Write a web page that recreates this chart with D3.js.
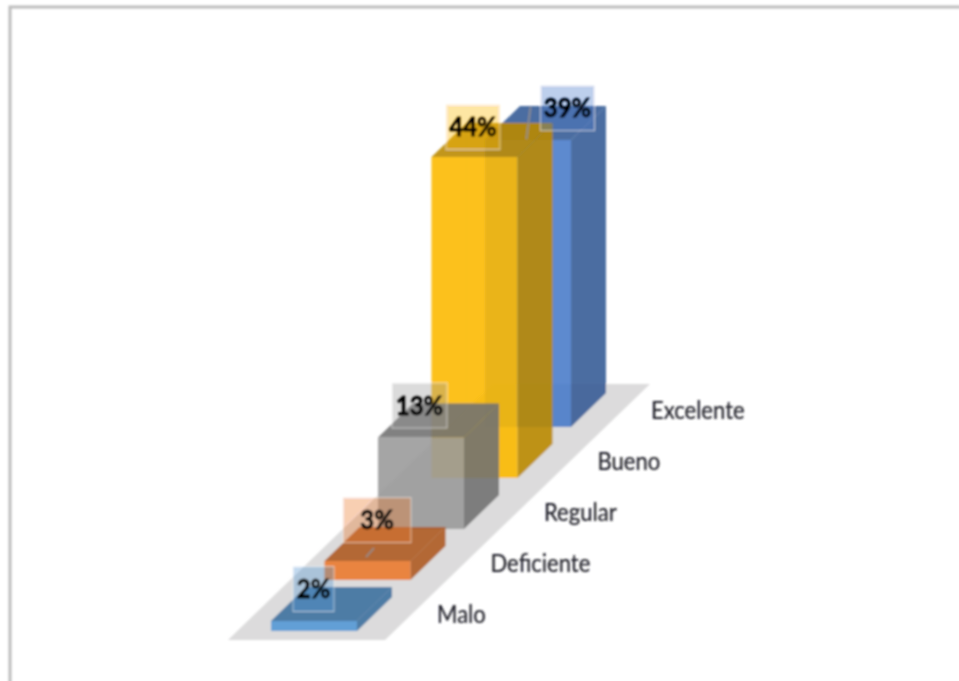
<!DOCTYPE html>
<html>
<head>
<meta charset="utf-8">
<script src="https://cdnjs.cloudflare.com/ajax/libs/d3/7.8.5/d3.min.js"></script>
<style>
html,body{margin:0;padding:0;background:#fff;overflow:hidden}
svg{display:block}
</style>
</head>
<body>
<svg id="chart" width="959" height="681"></svg>
<script>
// Data
const categories = ["Malo", "Deficiente", "Regular", "Bueno", "Excelente"];
const values = [2, 3.2, 13, 44, 39.4];
const seriesColors = ["#5498d6", "#ec7a2c", "#9b9b9b", "#fdbb00", "#4a7bcb"];

// Projection of the oblique 3D view
const barWidth = 86, depthX = 35, depthY = 34;
const xPos = d3.scalePoint().domain(categories).range([271, 485]);
const yPos = d3.scalePoint().domain(categories).range([631, 427]);
const height = d3.scaleLinear().domain([2, 44]).range([10, 321]);

// Label layout per category
const labelBox = {
  Malo:       {dx: -18, dy: -15, w: 41},
  Deficiente: {dx: -8,  dy: -24, w: 68, leader: [[-3, 28], [-11, 37]]},
  Regular:    {dx: -19, dy: -15, w: 55},
  Bueno:      {dx: -19, dy: -13, w: 54},
  Excelente:  {dx: 22,  dy: -15, w: 54, leader: [[-37, -1], [-41, 31]]}
};

const svg = d3.select("#chart");
const defs = svg.append("defs");
defs.append("filter").attr("id", "soft")
  .attr("x", "-5%").attr("y", "-5%").attr("width", "110%").attr("height", "110%")
  .append("feGaussianBlur").attr("stdDeviation", 0.85);

const root = svg.append("g").attr("filter", "url(#soft)");

// Picture frame (top and left edges only are visible)
root.append("path")
  .attr("d", d3.line()([[975, 7], [10, 7], [10, 700]]))
  .attr("fill", "none").attr("stroke", "#bdbdbd").attr("stroke-width", 3);

const line = d3.line();
const poly = pts => line(pts) + "Z";

// Floor
const first = categories[0];
const fx0 = xPos(first) - 43, fy0 = yPos(first) + 9;
const fx1 = xPos(first) + barWidth + 28;
const run = 265, rise = 256;
root.append("path")
  .attr("d", poly([[fx0, fy0], [fx1, fy0], [fx1 + run, fy0 - rise], [fx0 + run, fy0 - rise]]))
  .attr("fill", "#dcdbdc");

// Bars, back to front
const order = categories.map((c, i) => ({c, v: values[i], col: seriesColors[i]})).reverse();
const barAlpha = 0.88;

const bars = root.selectAll("g.bar").data(order).join("g").attr("class", "bar");
bars.each(function (d) {
  const g = d3.select(this);
  const x = xPos(d.c), y = yPos(d.c), h = height(d.v);
  const X = x + barWidth, T = y - h;
  const dark = d3.color(d.col).darker(0.85).formatHex();
  const edge = d3.color(d.col).darker(1.6).formatHex();
  // hidden faces seen through the translucent ones
  const hidden = [
    [[x, y], [X, y], [X + depthX, y - depthY], [x + depthX, y - depthY]],
    [[x + depthX, y - depthY], [X + depthX, y - depthY], [X + depthX, T - depthY], [x + depthX, T - depthY]],
    [[x, y], [x + depthX, y - depthY], [x + depthX, T - depthY], [x, T]]
  ];
  hidden.forEach(p => g.append("path").attr("d", poly(p)).attr("fill", edge).attr("fill-opacity", 0.12));
  g.append("path").attr("d", poly([[X, y], [X + depthX, y - depthY], [X + depthX, T - depthY], [X, T]]))
    .attr("fill", dark).attr("fill-opacity", barAlpha);
  g.append("path").attr("d", poly([[x, T], [X, T], [X + depthX, T - depthY], [x + depthX, T - depthY]]))
    .attr("fill", dark).attr("fill-opacity", barAlpha);
  g.append("path").attr("d", poly([[x, y], [X, y], [X, T], [x, T]]))
    .attr("fill", d.col).attr("fill-opacity", barAlpha);
});

// Category labels
root.selectAll("text.cat").data(categories).join("text")
  .attr("class", "cat")
  .attr("transform", c => `translate(${xPos(c) + 166},${yPos(c) - 8}) scale(0.9,1)`)
  .attr("font-family", "Lato, 'Open Sans', sans-serif")
  .attr("font-size", 24.5)
  .attr("fill", "#23232b")
  .attr("stroke", "#23232b").attr("stroke-width", 0.25)
  .text(c => c);

// Data labels
const labels = root.selectAll("g.lab").data(order).join("g").attr("class", "lab");
labels.each(function (d) {
  const g = d3.select(this);
  const cx = xPos(d.c) + barWidth / 2 + depthX / 2;
  const cy = yPos(d.c) - height(d.v) - depthY / 2;
  const b = labelBox[d.c];
  const lx = cx + b.dx, ly = cy + b.dy;
  if (b.leader) {
    g.append("path")
      .attr("d", line(b.leader.map(([a, e]) => [lx + a, ly + e])))
      .attr("stroke", "#8f8f8f").attr("stroke-width", 1.5).attr("fill", "none");
  }
  g.append("rect")
    .attr("x", lx - b.w / 2).attr("y", ly - 22.5)
    .attr("width", b.w).attr("height", 45)
    .attr("fill", d.col).attr("fill-opacity", 0.36)
    .attr("stroke", "#fff").attr("stroke-opacity", 0.55).attr("stroke-width", 1);
  g.append("text")
    .attr("transform", `translate(${lx},${ly + 9}) scale(0.92,1)`)
    .attr("text-anchor", "middle")
    .attr("font-family", "Lato, 'Open Sans', sans-serif")
    .attr("font-weight", 700)
    .attr("font-size", 26)
    .attr("fill", "#000")
    .attr("stroke", "#000").attr("stroke-width", 0.9)
    .text(Math.round(d.v) + "%");
});
</script>
</body>
</html>
